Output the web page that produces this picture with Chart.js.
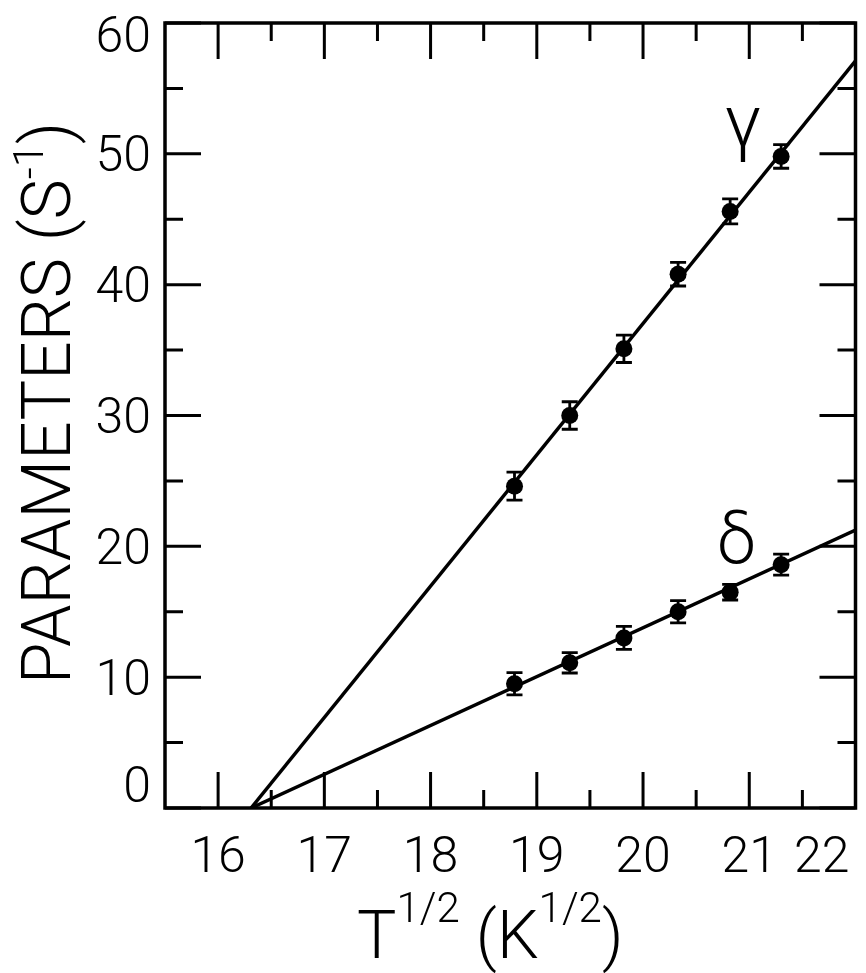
<!DOCTYPE html>
<html><head><meta charset="utf-8">
<script src="https://cdn.jsdelivr.net/npm/chart.js@4/dist/chart.umd.min.js"></script>
<style>html,body{margin:0;padding:0;background:#fff}canvas{display:block}</style>
</head><body>
<canvas id="c" width="866" height="973"></canvas>
<script>
// ---- data ----
const tempX = [18.79, 19.31, 19.82, 20.33, 20.82, 21.30];      // T^1/2
const gammaY = [24.6, 30.0, 35.1, 40.8, 45.6, 49.8];           // gamma (s^-1)
const gammaErr = [1.07, 1.05, 1.05, 0.90, 0.95, 0.90];
const deltaY = [9.5, 11.1, 13.0, 15.0, 16.5, 18.6];            // delta (s^-1)
const deltaErr = [0.85, 0.78, 0.88, 0.85, 0.60, 0.80];
const gammaFitX = [16.31, 22.0];
const gammaFitY = [0, 57.1];
const deltaFitX = [16.31, 22.0];
const deltaFitY = [0, 21.25];
const xTickValues = [16, 17, 18, 19, 20, 21, 22];
const xTickLabels = ['16', '17', '18', '19', '20', '21', '22'];
const xMinorValues = [16.5, 17.5, 18.5, 19.5, 20.5, 21.5];
const yTickValues = [0, 10, 20, 30, 40, 50, 60];
const yTickLabels = ['0', '10', '20', '30', '40', '50', '60'];
const yMinorValues = [5, 15, 25, 35, 45, 55];
const seriesNames = ['γ', 'δ'];
const seriesNameAt = [[20.94, 50.5], [20.88, 18.7]];   // label anchors in data units

const FONT = 'Roboto, "Liberation Sans", Arial, sans-serif';
const W = '300 ';

const pts = (xs, ys) => xs.map((v, i) => ({x: v, y: ys[i]}));

const frameAndText = {
  id: 'frameAndText',
  afterDatasetsDraw(chart) {
    const {ctx, chartArea: a, scales: {x, y}} = chart;
    ctx.save();
    ctx.strokeStyle = '#000';
    ctx.fillStyle = '#000';
    ctx.lineCap = 'butt';

    // error bars
    ctx.lineWidth = 2.8;
    [[gammaY, gammaErr], [deltaY, deltaErr]].forEach(([vals, errs]) => {
      vals.forEach((v, i) => {
        const px = x.getPixelForValue(tempX[i]);
        const yt = y.getPixelForValue(v + errs[i]);
        const yb = y.getPixelForValue(v - errs[i]);
        ctx.beginPath();
        ctx.moveTo(px, yt); ctx.lineTo(px, yb);
        ctx.moveTo(px - 8, yt); ctx.lineTo(px + 8, yt);
        ctx.moveTo(px - 8, yb); ctx.lineTo(px + 8, yb);
        ctx.stroke();
      });
    });

    // inward tick marks
    ctx.lineWidth = 3;
    const MAJ = 36, MIN = 18;
    const xt = xTickValues.map(v => [v, MAJ]).concat(xMinorValues.map(v => [v, MIN]));
    xt.forEach(([v, len]) => {
      const px = x.getPixelForValue(v);
      ctx.beginPath();
      ctx.moveTo(px, a.bottom); ctx.lineTo(px, a.bottom - len);
      ctx.moveTo(px, a.top); ctx.lineTo(px, a.top + len);
      ctx.stroke();
    });
    const yt = yTickValues.map(v => [v, MAJ]).concat(yMinorValues.map(v => [v, MIN]));
    yt.forEach(([v, len]) => {
      const py = y.getPixelForValue(v);
      ctx.beginPath();
      ctx.moveTo(a.left, py); ctx.lineTo(a.left + len, py);
      ctx.moveTo(a.right, py); ctx.lineTo(a.right - len, py);
      ctx.stroke();
    });

    // frame
    ctx.lineWidth = 3.5;
    ctx.strokeRect(a.left, a.top, a.right - a.left, a.bottom - a.top);

    // tick labels
    ctx.font = W + '50px ' + FONT;
    ctx.textBaseline = 'alphabetic';
    const capH = 35;
    xTickValues.forEach((v, i) => {
      const w = ctx.measureText(xTickLabels[i]).width;
      let cx = x.getPixelForValue(v);
      cx = Math.min(cx, a.right - 6 - w / 2);
      ctx.textAlign = 'center';
      ctx.fillText(xTickLabels[i], cx, a.bottom + 29 + capH);
    });
    yTickValues.forEach((v, i) => {
      let cy = y.getPixelForValue(v);
      cy = Math.max(a.top + capH / 2 - 6, Math.min(a.bottom - capH / 2 - 6, cy));
      ctx.textAlign = 'right';
      ctx.fillText(yTickLabels[i], a.left - 14, cy + capH / 2);
    });

    // series names
    ctx.textAlign = 'center';
    ctx.font = W + '74px ' + FONT;
    ctx.fillText(seriesNames[0], x.getPixelForValue(seriesNameAt[0][0]), y.getPixelForValue(seriesNameAt[0][1]));
    ctx.font = W + '70px ' + FONT;
    ctx.fillText(seriesNames[1], x.getPixelForValue(seriesNameAt[1][0]), y.getPixelForValue(seriesNameAt[1][1]));

    // x axis title: T^{1/2} (K^{1/2})
    const big = W + '66px ' + FONT, small = W + '42px ' + FONT;
    const xParts = [['T', big, 0], ['1/2', small, -36], [' (K', big, 0], ['1/2', small, -36], [')', big, 0]];
    let total = 0;
    xParts.forEach(p => { ctx.font = p[1]; total += ctx.measureText(p[0]).width; });
    let cx = (a.left + a.right) / 2 - 20 - total / 2;
    const base = 958;
    ctx.textAlign = 'left';
    xParts.forEach(p => {
      ctx.font = p[1];
      ctx.fillText(p[0], cx, base + p[2]);
      cx += ctx.measureText(p[0]).width;
    });

    // y axis title: PARAMETERS (S^-1)
    ctx.save();
    ctx.translate(70, 403);
    ctx.rotate(-Math.PI / 2);
    const yBig = W + '68px ' + FONT, ySmall = W + '42px ' + FONT;
    const yParts = [['PARAMETERS (S', yBig, 0], ['-1', ySmall, -27], [')', yBig, 0]];
    total = 0;
    yParts.forEach(p => { ctx.font = p[1]; total += ctx.measureText(p[0]).width; });
    let tx = -total / 2;
    yParts.forEach(p => {
      ctx.font = p[1];
      ctx.fillText(p[0], tx, p[2]);
      tx += ctx.measureText(p[0]).width;
    });
    ctx.restore();

    ctx.restore();
  }
};

new Chart(document.getElementById('c'), {
  type: 'scatter',
  data: {
    datasets: [
      {label: 'γ fit', data: pts(gammaFitX, gammaFitY), showLine: true, pointRadius: 0,
       borderColor: '#000', borderWidth: 3.5, fill: false},
      {label: 'δ fit', data: pts(deltaFitX, deltaFitY), showLine: true, pointRadius: 0,
       borderColor: '#000', borderWidth: 3.5, fill: false},
      {label: 'γ', data: pts(tempX, gammaY), pointRadius: 8.5, pointBackgroundColor: '#000',
       pointBorderWidth: 0, showLine: false},
      {label: 'δ', data: pts(tempX, deltaY), pointRadius: 8.5, pointBackgroundColor: '#000',
       pointBorderWidth: 0, showLine: false}
    ]
  },
  options: {
    responsive: false,
    animation: false,
    devicePixelRatio: 1,
    layout: {padding: {left: 165, right: 10.5, top: 23, bottom: 165}},
    plugins: {legend: {display: false}, tooltip: {enabled: false}},
    scales: {
      x: {type: 'linear', min: 15.5, max: 22, display: false},
      y: {type: 'linear', min: 0, max: 60, display: false}
    }
  },
  plugins: [frameAndText]
});
</script>
</body></html>
